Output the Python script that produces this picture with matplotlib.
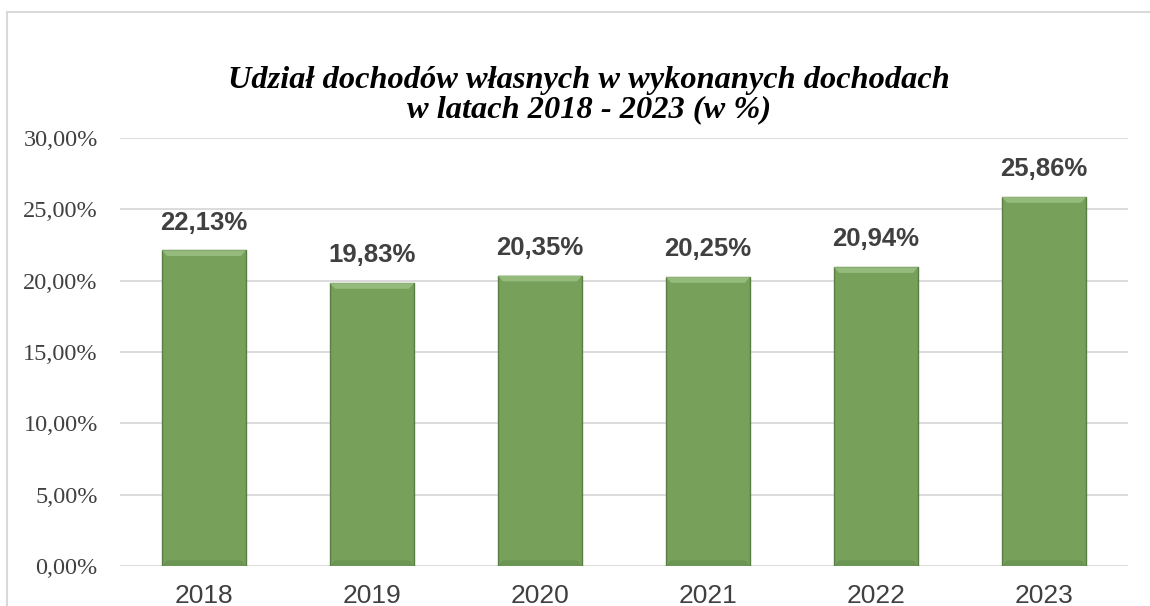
import matplotlib.pyplot as plt
from matplotlib.patches import Polygon
from matplotlib.ticker import FuncFormatter

years = ['2018', '2019', '2020', '2021', '2022', '2023']
shares = [22.13, 19.83, 20.35, 20.25, 20.94, 25.86]
value_labels = ['22,13%', '19,83%', '20,35%', '20,25%', '20,94%', '25,86%']

fig = plt.figure(figsize=(11.5, 6.06), dpi=100)
ax = fig.add_axes([120/1150, 1 - 566/606, 1008/1150, (566 - 138)/606])

# outer frame of the chart area
fig.add_artist(plt.Line2D([7/1150, 7/1150], [0, 1 - 12/606], color='#d9d9d9', lw=1.5))
fig.add_artist(plt.Line2D([7/1150, 1], [1 - 12/606, 1 - 12/606], color='#d9d9d9', lw=1.5))

x = range(len(years))
bars = ax.bar(x, shares, width=0.5, color='#77a05b', edgecolor='#5a7d43', linewidth=1.0, zorder=3)

# soft bevel on top and bottom of each bar
for b in bars:
    x0, w, h = b.get_x(), b.get_width(), b.get_height()
    d = 0.06 * w
    dh = 0.4
    top = Polygon([[x0, h], [x0 + w, h], [x0 + w - d, h - dh], [x0 + d, h - dh]],
                  closed=True, facecolor='#94bb7b', edgecolor='none', zorder=4)
    ax.add_patch(top)
    bot = Polygon([[x0, 0], [x0 + w, 0], [x0 + w - d, dh], [x0 + d, dh]],
                  closed=True, facecolor='#6b9552', edgecolor='none', zorder=4)
    ax.add_patch(bot)

for i, (v, lab) in enumerate(zip(shares, value_labels)):
    ax.annotate(lab, (i, v), xytext=(0, 20), textcoords='offset points',
                ha='center', va='center', fontsize=18.5, fontweight='bold',
                color='#404040', family='Liberation Sans')

ax.set_ylim(0, 30)
ax.set_xlim(-0.5, len(years) - 0.5)
ax.set_yticks([0, 5, 10, 15, 20, 25, 30])
ax.yaxis.set_major_formatter(FuncFormatter(lambda v, p: f'{v:.2f}%'.replace('.', ',')))
ax.set_xticks(list(x))
ax.set_xticklabels(years, fontsize=19, color='#404040', family='Liberation Sans')
for t in ax.get_yticklabels():
    t.set_fontsize(17.5)
    t.set_family('Liberation Serif')
    t.set_color('#404040')
ax.tick_params(axis='both', length=0)
ax.tick_params(axis='y', pad=16)
ax.tick_params(axis='x', pad=13)
ax.grid(axis='y', color='#d9d9d9', linewidth=1.3, zorder=0)
for s in ax.spines.values():
    s.set_visible(False)

fig.text(589/1150, 1 - 95/606, 'Udział dochodów własnych w wykonanych dochodach\nw latach 2018 - 2023 (w %)',
         ha='center', va='center', fontsize=23.3, fontweight='bold', style='italic',
         family='Liberation Serif', linespacing=1.0)

fig.savefig('out.png', dpi=100)
